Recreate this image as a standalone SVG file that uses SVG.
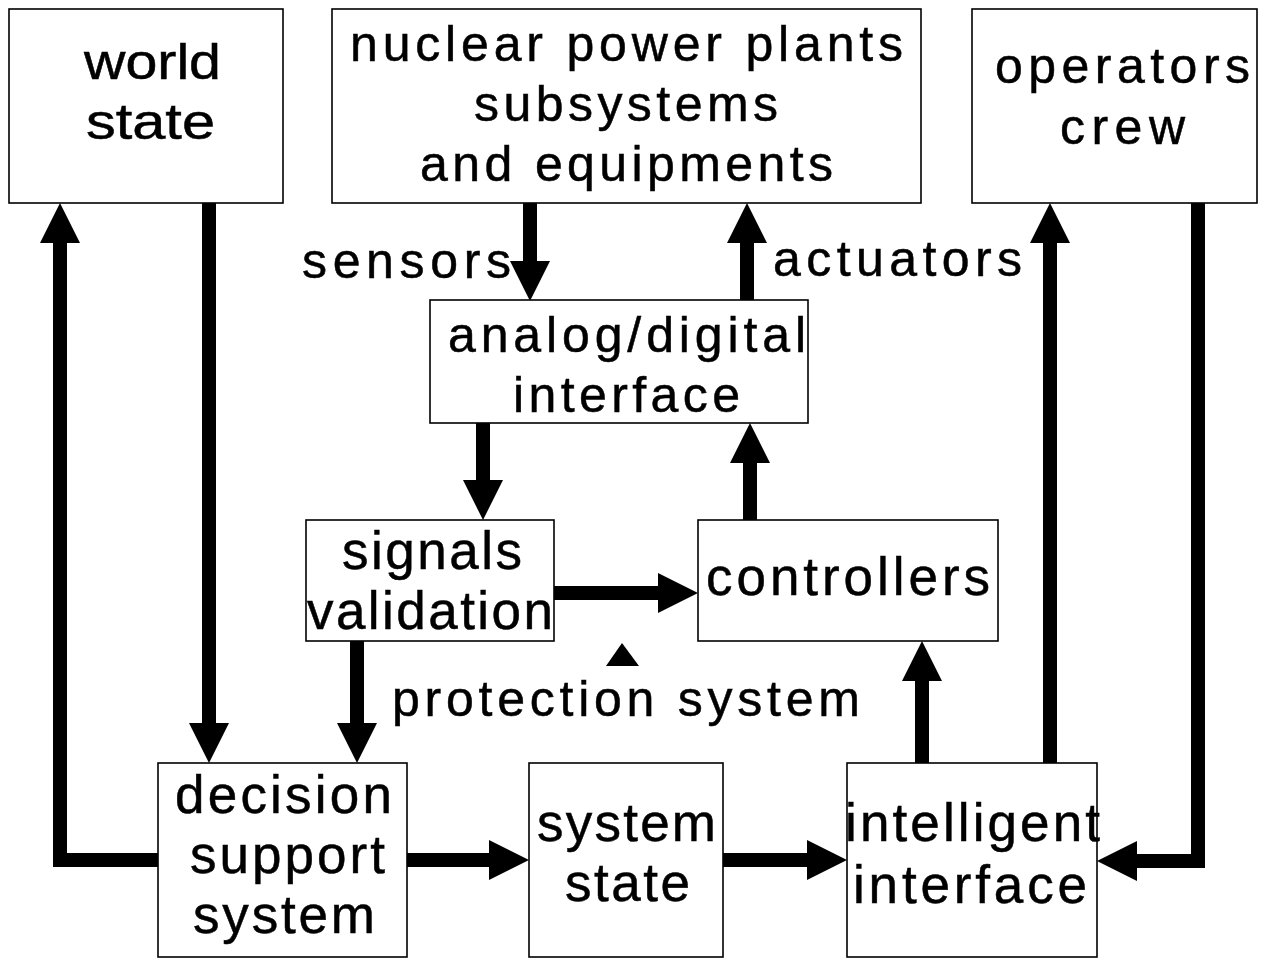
<svg xmlns="http://www.w3.org/2000/svg" width="1273" height="958" viewBox="0 0 1273 958">
  <defs>
    <style>
      .box { fill: #ffffff; stroke: #000000; stroke-width: 1.6; }
      .lbl { font-family: "Liberation Sans", Arial, sans-serif; font-size: 50px; fill: #000000; stroke: #000000; stroke-width: 0.5; }
      .big { font-size: 53px; }
      .flow { fill: none; stroke: #000000; stroke-width: 14; stroke-linejoin: miter; stroke-linecap: butt; marker-end: url(#head); }
    </style>
    <!-- solid arrowhead: base sits on the line end, tip 40px further on -->
    <marker id="head" markerUnits="userSpaceOnUse" viewBox="0 -21 40 42" refX="0" refY="0" markerWidth="40" markerHeight="42" orient="auto" overflow="visible">
      <path d="M0,-20 L40,0 L0,20 Z" fill="#000000"/>
    </marker>
  </defs>

  <rect width="1273" height="958" fill="#ffffff"/>

  <!-- connectors -->
  <g id="connectors">
    <path class="flow" d="M209,203 V723"/>
    <path class="flow" d="M158,860 H60 V243"/>
    <path class="flow" d="M357,641 V723"/>
    <path class="flow" d="M407,860 H489"/>
    <path class="flow" d="M723,860 H807"/>
    <path class="flow" d="M922,763 V681"/>
    <path class="flow" d="M1050,763 V243"/>
    <path class="flow" d="M1198,203 V861 H1137"/>
    <path class="flow" d="M530,203 V261"/>
    <path class="flow" d="M747,300 V243"/>
    <path class="flow" d="M483,423 V480"/>
    <path class="flow" d="M750,520 V463"/>
    <path class="flow" d="M554,593 H658"/>
  </g>

  <g id="world-state">
    <rect class="box" x="9" y="9" width="274" height="194"/>
    <text class="lbl" x="84" y="79" textLength="137" lengthAdjust="spacingAndGlyphs">world</text>
    <text class="lbl" x="86" y="139" textLength="129" lengthAdjust="spacingAndGlyphs">state</text>
  </g>

  <g id="plant-subsystems">
    <rect class="box" x="332" y="9" width="589" height="194"/>
    <text class="lbl" x="350" y="61" textLength="553" lengthAdjust="spacing">nuclear power plants</text>
    <text class="lbl" x="474" y="121" textLength="304" lengthAdjust="spacing">subsystems</text>
    <text class="lbl" x="420" y="181" textLength="413" lengthAdjust="spacing">and equipments</text>
  </g>

  <g id="operators-crew">
    <rect class="box" x="972" y="9" width="285" height="194"/>
    <text class="lbl" x="995" y="83" textLength="255" lengthAdjust="spacing">operators</text>
    <text class="lbl" x="1060" y="144" textLength="125" lengthAdjust="spacing">crew</text>
  </g>

  <g id="io-labels">
    <text class="lbl" x="302" y="278" textLength="209" lengthAdjust="spacing">sensors</text>
    <text class="lbl" x="773" y="276" textLength="249" lengthAdjust="spacing">actuators</text>
  </g>

  <g id="ad-interface">
    <rect class="box" x="430" y="300" width="378" height="123"/>
    <text class="lbl" x="448" y="352" textLength="358" lengthAdjust="spacing">analog/digital</text>
    <text class="lbl" x="513" y="412" textLength="227" lengthAdjust="spacing">interface</text>
  </g>

  <g id="signals-validation">
    <rect class="box" x="306" y="520" width="248" height="121"/>
    <text class="lbl big" x="342" y="569" textLength="180" lengthAdjust="spacing">signals</text>
    <text class="lbl big" x="307" y="629" textLength="246" lengthAdjust="spacing">validation</text>
  </g>

  <g id="controllers">
    <rect class="box" x="698" y="520" width="300" height="121"/>
    <text class="lbl big" x="706" y="595" textLength="284" lengthAdjust="spacing">controllers</text>
  </g>

  <g id="protection-system">
    <polygon points="622,643 606,666 639,666" fill="#000000"/>
    <text class="lbl" x="392" y="716" textLength="468" lengthAdjust="spacing">protection system</text>
  </g>

  <g id="decision-support">
    <rect class="box" x="158" y="763" width="249" height="194"/>
    <text class="lbl big" x="175" y="813" textLength="217" lengthAdjust="spacing">decision</text>
    <text class="lbl big" x="190" y="873" textLength="195" lengthAdjust="spacing">support</text>
    <text class="lbl big" x="193" y="933" textLength="182" lengthAdjust="spacing">system</text>
  </g>

  <g id="system-state">
    <rect class="box" x="529" y="763" width="194" height="194"/>
    <text class="lbl big" x="537" y="841" textLength="179" lengthAdjust="spacing">system</text>
    <text class="lbl big" x="565" y="901" textLength="125" lengthAdjust="spacing">state</text>
  </g>

  <g id="intelligent-interface">
    <rect class="box" x="847" y="763" width="250" height="194"/>
    <text class="lbl big" x="845" y="841" textLength="255" lengthAdjust="spacing">intelligent</text>
    <text class="lbl big" x="853" y="903" textLength="234" lengthAdjust="spacing">interface</text>
  </g>
</svg>
